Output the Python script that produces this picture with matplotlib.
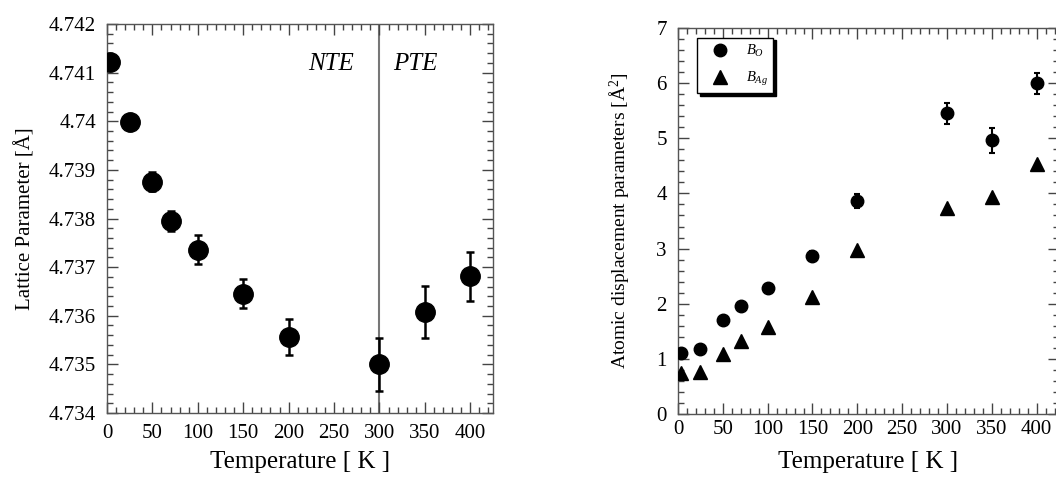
import numpy as np
import matplotlib
matplotlib.use("Agg")
import matplotlib.pyplot as plt
from matplotlib.ticker import MultipleLocator, FuncFormatter
from matplotlib.lines import Line2D

plt.rcParams['font.family'] = ['Liberation Serif', 'DejaVu Serif']
plt.rcParams['mathtext.fontset'] = 'custom'
plt.rcParams['mathtext.rm'] = 'Liberation Serif'
plt.rcParams['mathtext.it'] = 'Liberation Serif:italic'

# lattice parameter vs T
T_a = [3, 25, 50, 70, 100, 150, 200, 300, 350, 400]
a_val = [4.74121, 4.73998, 4.73876, 4.73795, 4.73736, 4.73645, 4.73557, 4.73500, 4.73608, 4.73681]
a_err = [0.00004, 0.00005, 0.0002, 0.0002, 0.0003, 0.0003, 0.00037, 0.00055, 0.00054, 0.0005]

# atomic displacement parameters
T_b = [3, 25, 50, 70, 100, 150, 200, 300, 350, 400]
B_O = [1.11, 1.18, 1.71, 1.95, 2.29, 2.87, 3.86, 5.45, 4.96, 6.0]
B_O_err = [0.03, 0.03, 0.03, 0.03, 0.07, 0.08, 0.13, 0.19, 0.23, 0.19]
B_Ag = [0.74, 0.76, 1.08, 1.32, 1.57, 2.12, 2.97, 3.74, 3.94, 4.53]

W, H = 1056, 479
fig = plt.figure(figsize=(W / 100, H / 100), dpi=100)

def style(ax):
    ax.tick_params(which='both', direction='in', top=True, right=True, color='#444444')
    ax.tick_params(which='major', length=8, width=1)
    ax.tick_params(which='minor', length=4.5, width=1)
    for s in ax.spines.values():
        s.set_color('#555555')
        s.set_linewidth(1)

# left panel
ax1 = fig.add_axes([107 / W, 1 - 413 / H, 386 / W, 389 / H])
ax1.errorbar(T_a, a_val, yerr=a_err, fmt='o', color='k', ms=14, elinewidth=1.8,
             capsize=3, capthick=1.8, zorder=3)
ax1.axvline(300, color='#777777', lw=1.5, zorder=1)
ax1.set_xlim(0, 425)
ax1.set_ylim(4.734, 4.742)
ax1.xaxis.set_major_locator(MultipleLocator(50))
ax1.xaxis.set_minor_locator(MultipleLocator(10))
ax1.yaxis.set_major_locator(MultipleLocator(0.001))
ax1.yaxis.set_minor_locator(MultipleLocator(0.0002))
ax1.yaxis.set_major_formatter(FuncFormatter(lambda v, p: f'{v:.3f}'.rstrip('0')))
style(ax1)
ax1.tick_params(axis='x', pad=8, labelsize=15)
ax1.tick_params(axis='y', pad=8, labelsize=15)
ax1.set_xlabel('Temperature [ K ]', fontsize=18, labelpad=6)
ax1.set_ylabel('Lattice Parameter [Å]', fontsize=15)
ax1.yaxis.set_label_coords(-0.185, 0.5)
ax1.text(0.52, 0.882, 'NTE', transform=ax1.transAxes, fontsize=18, style='italic')
ax1.text(0.742, 0.882, 'PTE', transform=ax1.transAxes, fontsize=18, style='italic')

# right panel
ax2 = fig.add_axes([678 / W, 1 - 414 / H, 381 / W, 386 / H])
ax2.errorbar(T_b, B_O, yerr=B_O_err, fmt='o', color='k', ms=9, elinewidth=1.5,
             capsize=2.5, capthick=1.5, zorder=3)
ax2.plot(T_b, B_Ag, '^', color='k', ms=10, zorder=3)
ax2.set_xlim(0, 425)
ax2.set_ylim(0, 7)
ax2.xaxis.set_major_locator(MultipleLocator(50))
ax2.xaxis.set_minor_locator(MultipleLocator(10))
ax2.yaxis.set_major_locator(MultipleLocator(1))
ax2.yaxis.set_minor_locator(MultipleLocator(0.2))
style(ax2)
ax2.tick_params(axis='x', pad=4, labelsize=15)
ax2.tick_params(axis='y', pad=8, labelsize=15)
ax2.set_xlabel('Temperature [ K ]', fontsize=18, labelpad=9)
ax2.set_ylabel('Atomic displacement parameters [Å$^{2}$]', fontsize=14)
ax2.yaxis.set_label_coords(-0.122, 0.5)

handles = [Line2D([], [], ls='none', marker='o', color='k', ms=9),
           Line2D([], [], ls='none', marker='^', color='k', ms=10)]
labels = ['$B_{O}$', '$B_{Ag}$']
leg = ax2.legend(handles, labels, loc='upper left', bbox_to_anchor=(0.05, 0.975),
                 borderaxespad=0, fancybox=False, edgecolor='k', fontsize=10.5,
                 handletextpad=0.6, borderpad=0.35, labelspacing=0.75, handlelength=2.4,
                 shadow={'color': 'k', 'alpha': 1, 'ox': 2, 'oy': -2})
leg.get_frame().set_linewidth(1)

fig.savefig('out.png', dpi=100)
